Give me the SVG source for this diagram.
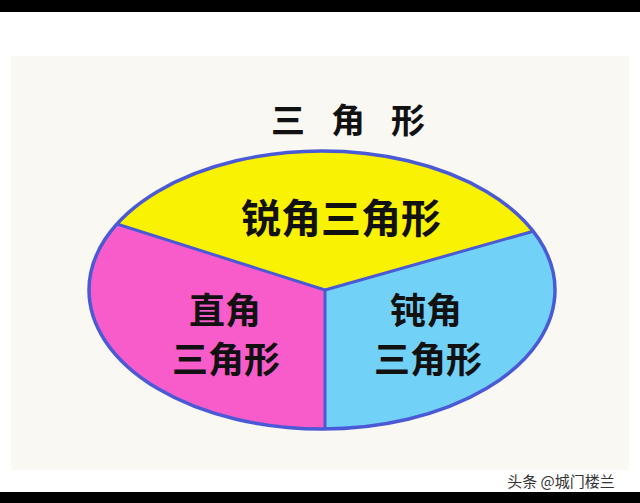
<svg xmlns="http://www.w3.org/2000/svg" width="640" height="503" viewBox="0 0 640 503">
<style>
.t{font-family:"Noto Sans CJK SC","Noto Sans CJK JP",sans-serif;font-weight:bold;fill:#111;text-anchor:middle}
.div{stroke:#4a5ad6;stroke-width:3;stroke-linecap:round;stroke-linejoin:round;fill:none}
</style>
<defs>
<clipPath id="ell"><ellipse cx="322" cy="290" rx="233" ry="139"/></clipPath>
</defs>
<rect x="0" y="0" width="640" height="503" fill="#ffffff"/>
<rect x="0" y="0" width="640" height="12" fill="#000"/>
<rect x="0" y="492" width="640" height="11" fill="#000"/>
<rect x="11" y="56" width="618" height="414" fill="#f9f8f2"/>
<g id="title">
<text class="t" x="288" y="133" font-size="34">三</text>
<text class="t" x="348" y="133" font-size="34">角</text>
<text class="t" x="408" y="133" font-size="34">形</text>
</g>
<g id="acute"><polygon clip-path="url(#ell)" fill="#f9f200" points="325,290 40,199.6 40,100 600,100 600,212.4"/></g>
<g id="right"><polygon clip-path="url(#ell)" fill="#f85ccb" points="325,290 40,199.6 40,460 325,460"/></g>
<g id="obtuse"><polygon clip-path="url(#ell)" fill="#72d1f7" points="325,290 600,212.4 600,460 325,460"/></g>
<g id="connectors">
<polyline class="div" clip-path="url(#ell)" points="40,199.6 325,290 600,212.4"/>
<line class="div" clip-path="url(#ell)" x1="325" y1="290" x2="325" y2="460"/>
<ellipse cx="322" cy="290" rx="233" ry="139" fill="none" stroke="#4a5ad6" stroke-width="3.5"/>
</g>
<g id="label-acute"><text class="t" x="341" y="233" font-size="40">锐角三角形</text></g>
<g id="label-right"><text class="t" x="225" y="324" font-size="36">直角</text><text class="t" x="226" y="373" font-size="36">三角形</text></g>
<g id="label-obtuse"><text class="t" x="426" y="324" font-size="36">钝角</text><text class="t" x="428" y="373" font-size="36">三角形</text></g>
<g id="watermark"><text x="561" y="487" font-size="15" fill="#333" text-anchor="middle" font-family="Noto Sans CJK SC,sans-serif">头条 @城门楼兰</text></g>
</svg>
